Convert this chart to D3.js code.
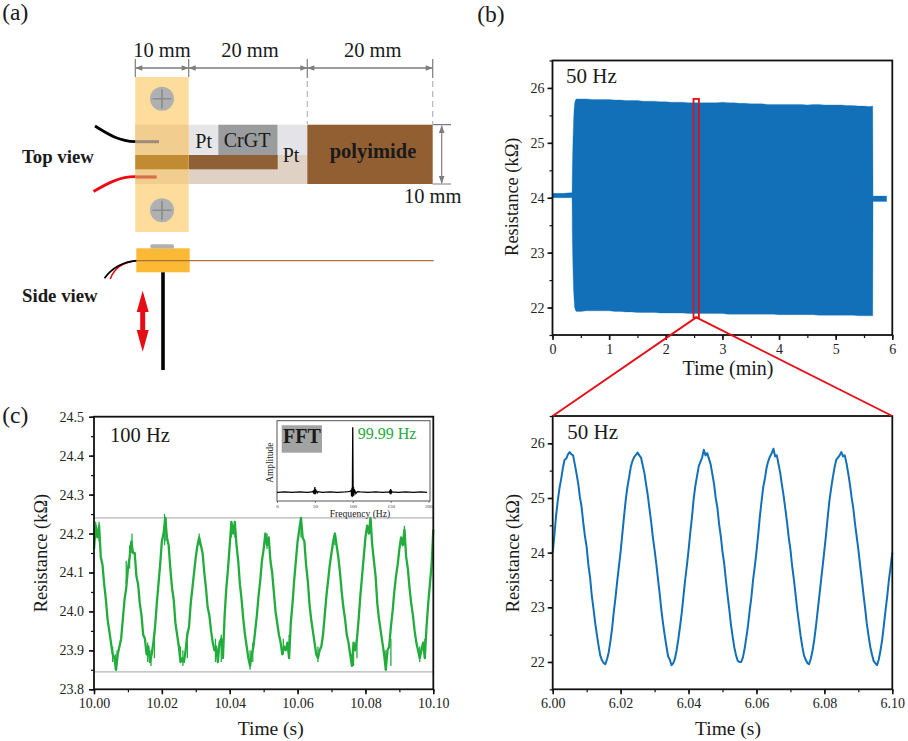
<!DOCTYPE html>
<html><head><meta charset="utf-8">
<script src="https://cdn.jsdelivr.net/npm/d3@7"></script>
<style>
html,body{margin:0;padding:0;background:#fff}
svg{display:block}
text{font-family:"Liberation Serif",serif;fill:#1a1a1a}
</style></head><body>
<svg id="fig" width="908" height="741" viewBox="0 0 908 741"></svg>
<script>
// ---------- data ----------
const bTime=[0,.1,.2,.3,.34,.345,.35,.36,.37,.38,.39,.405,.42,.5,.6,.7,.8,.9,1,1.1,1.2,1.3,1.4,1.5,1.6,1.7,1.8,1.9,2,2.1,2.2,2.3,2.4,2.5,2.6,2.7,2.8,2.9,3,3.1,3.2,3.3,3.4,3.5,3.6,3.7,3.8,3.9,4,4.1,4.2,4.3,4.4,4.5,4.6,4.7,4.8,4.9,5,5.1,5.2,5.3,5.4,5.5,5.6,5.655,5.66,5.7,5.8,5.9];
const bHigh=[24.08,24.08,24.08,24.09,24.09,24.09,24.55,25.0,25.35,25.6,25.72,25.78,25.80,25.80,25.80,25.79,25.79,25.79,25.79,25.78,25.78,25.77,25.77,25.77,25.76,25.76,25.76,25.75,25.75,25.74,25.74,25.74,25.73,25.73,25.73,25.73,25.73,25.73,25.74,25.73,25.73,25.72,25.72,25.71,25.71,25.71,25.70,25.70,25.70,25.70,25.70,25.70,25.70,25.69,25.70,25.70,25.69,25.69,25.69,25.69,25.68,25.68,25.67,25.67,25.66,25.67,24.03,24.03,24.03,24.03];
const bLow=[24.00,24.00,24.00,24.00,24.00,24.00,23.23,22.75,22.35,22.15,22.0,21.95,21.93,21.93,21.94,21.94,21.94,21.94,21.94,21.93,21.93,21.92,21.92,21.91,21.91,21.91,21.91,21.90,21.90,21.90,21.90,21.90,21.89,21.89,21.89,21.89,21.89,21.89,21.89,21.88,21.88,21.88,21.88,21.88,21.88,21.88,21.88,21.88,21.87,21.87,21.87,21.87,21.87,21.87,21.87,21.86,21.86,21.86,21.86,21.86,21.86,21.86,21.85,21.85,21.85,21.85,23.93,23.93,23.93,23.93];
const bZoomBox={t0:2.49,t1:2.585,r0:21.82,r1:25.8};

const cStep=0.0005;
const cRes=[24.16,24.22,24.19,24.22,24.14,24.12,24.07,24.03,23.98,23.95,23.92,23.89,23.88,23.85,23.89,23.91,23.93,23.98,24.03,24.06,24.11,
24.14,24.18,24.15,24.15,24.09,24.07,24.02,23.99,23.94,23.93,23.89,23.91,23.87,23.89,23.92,23.96,24.02,24.07,24.12,24.18,
24.20,24.24,24.19,24.17,24.11,24.06,24.03,23.97,23.94,23.91,23.87,23.88,23.87,23.90,23.94,23.96,24.02,24.06,24.10,24.14,
24.17,24.19,24.17,24.15,24.10,24.06,24.01,23.99,23.95,23.92,23.90,23.91,23.87,23.92,23.93,23.88,23.99,24.06,24.11,24.17,
24.23,24.20,24.23,24.17,24.13,24.07,24.03,23.98,23.94,23.91,23.88,23.86,23.89,23.91,23.95,23.99,24.04,24.08,24.13,24.16,
24.20,24.17,24.19,24.13,24.10,24.05,24.00,23.97,23.94,23.92,23.89,23.91,23.90,23.92,23.88,23.97,24.02,24.08,24.13,24.18,
24.21,24.24,24.19,24.18,24.12,24.08,24.02,23.98,23.95,23.92,23.89,23.88,23.90,23.91,23.94,23.99,24.04,24.08,24.12,24.15,
24.18,24.20,24.17,24.14,24.10,24.05,24.01,23.98,23.94,23.92,23.89,23.86,23.92,23.90,23.93,23.98,24.04,24.09,24.14,24.19,
24.22,24.20,24.24,24.17,24.13,24.09,24.02,23.98,23.95,23.92,23.89,23.85,23.90,23.91,23.96,24.00,24.05,24.09,24.12,24.16,
24.19,24.17,24.21,24.14,24.11,24.06,24.02,23.99,23.95,23.92,23.90,23.88,23.90,23.92,23.88,23.96,24.02,24.07,24.12,24.21];
// noise bursts seen on the 100 Hz trace
const cBurstTime=[10.0005,10.0015,10.0095,10.0105,10.0112,10.0208,10.0212,10.031,10.0405,10.0415,10.051,10.061,10.071,10.0815,10.0915,10.0055,10.0063,10.0068,10.0158,10.0168,10.0178,10.0255,10.0262,10.0275,10.0358,10.0375,10.046,10.0468,10.0558,10.0575,10.066,10.0765,10.0775,10.086,10.0875,10.096,10.0975];
const cBurstLow=[24.19,24.18,24.07,24.11,24.15,24.17,24.18,24.17,24.19,24.19,24.16,24.19,24.17,24.20,24.17,23.87,23.85,23.87,23.87,23.86,23.88,23.87,23.86,23.88,23.87,23.87,23.85,23.87,23.89,23.88,23.87,23.86,23.88,23.85,23.86,23.87,23.88];
const cBurstHigh=[24.23,24.23,24.13,24.17,24.20,24.25,24.24,24.20,24.23,24.23,24.20,24.24,24.20,24.24,24.22,23.91,23.89,23.90,23.92,23.90,23.95,23.91,23.90,23.95,23.93,23.94,23.90,23.92,23.93,23.94,23.91,23.92,23.94,23.90,23.93,23.91,23.93];
const cGuides=[24.24,23.845];

const dStep=0.0005;
const dRes=[24.00,24.32,24.68,24.95,25.18,25.35,25.55,25.70,25.72,25.80,25.84,25.80,25.78,25.62,25.45,25.27,25.02,24.84,24.55,24.30,24.10,23.78,23.55,23.22,22.98,22.72,22.50,22.30,22.12,22.03,21.98,21.96,22.05,22.18,22.38,22.62,22.92,23.18,23.48,23.75,24.02,
24.34,24.66,24.96,25.20,25.38,25.57,25.68,25.75,25.79,25.83,25.78,25.74,25.60,25.46,25.25,25.05,24.80,24.56,24.28,24.05,23.80,23.52,23.25,22.95,22.70,22.48,22.28,22.10,22.04,21.94,21.98,22.06,22.22,22.42,22.65,22.90,23.20,23.50,23.76,24.04,
24.36,24.64,24.98,25.22,25.40,25.58,25.66,25.74,25.88,25.78,25.82,25.72,25.62,25.44,25.26,25.00,24.82,24.52,24.30,24.02,23.80,23.50,23.22,22.96,22.68,22.46,22.26,22.12,22.02,22.00,22.00,22.08,22.24,22.44,22.66,22.94,23.18,23.50,23.74,24.02,
24.32,24.66,24.94,25.20,25.36,25.56,25.68,25.76,25.82,25.90,25.76,25.78,25.62,25.46,25.24,25.04,24.80,24.56,24.28,24.06,23.76,23.52,23.24,22.96,22.72,22.48,22.28,22.12,22.04,21.98,21.96,22.06,22.20,22.40,22.64,22.92,23.20,23.48,23.76,24.04,
24.34,24.66,24.96,25.18,25.38,25.56,25.70,25.74,25.78,25.84,25.76,25.78,25.64,25.46,25.26,25.02,24.82,24.54,24.30,24.06,23.78,23.52,23.24,22.98,22.70,22.48,22.28,22.14,22.02,21.98,21.94,22.04,22.20,22.40,22.66,22.94,23.20,23.50,23.74,24.00];

const fftFreq=[0,10,20,30,40,46,47,48,48.5,49,49.5,50,50.5,51,52,53,54,60,70,80,90,94,96,97,98,98.5,99,99.5,99.99,100.5,101,101.5,102,103,104,106,110,120,130,140,148,149,149.5,150,150.5,151,152,160,170,180,190,198];
const fftAmp =[0,.005,0,.005,0,.005,.01,.02,-.02,.04,-.03,.08,-.03,.04,.015,-.01,.01,0,.005,0,.005,.01,.015,.02,.03,-.06,.07,-.07,1,-.06,.08,-.05,.04,.02,-.02,.01,.005,0,.005,0,.005,.02,-.03,.05,-.03,.02,.005,0,.005,0,.005,0];
const fftFreqTicks=[0,50,100,150,200];

const bXTicks=[0,1,2,3,4,5,6], bYTicks=[22,23,24,25,26];
const cXTicks=[10,10.02,10.04,10.06,10.08,10.1], cYTicks=[23.8,23.9,24,24.1,24.2,24.3,24.4,24.5];
const dXTicks=[6,6.02,6.04,6.06,6.08,6.1], dYTicks=[22,23,24,25,26];

const BLUE="#1270b9", GREEN="#22ac3c", RED="#e60d16", INK="#111";
const svg=d3.select("#fig");

function txt(g,s,x,y,size,o={}){
  const t=g.append("text").attr("x",x).attr("y",y).style("font-size",size+"px").text(s);
  if(o.bold)t.style("font-weight","bold");
  if(o.anchor)t.attr("text-anchor",o.anchor);
  if(o.fill)t.style("fill",o.fill);
  if(o.rot!=null)t.attr("transform",`rotate(${o.rot} ${x} ${y})`);
  return t;
}
function frame(g,x,y,o){
  const [x0,x1]=x.range(),[y0,y1]=y.range();
  g.append("g").attr("transform",`translate(0,${y0})`).call(d3.axisBottom(x).tickValues(o.xMinor).tickFormat("").tickSize(3).tickSizeOuter(0)).call(s=>s.select(".domain").remove()).selectAll("line").attr("stroke",INK).attr("stroke-width",1.2);
  g.append("g").attr("transform",`translate(${x0},0)`).call(d3.axisLeft(y).tickValues(o.yMinor).tickFormat("").tickSize(3).tickSizeOuter(0)).call(s=>s.select(".domain").remove()).selectAll("line").attr("stroke",INK).attr("stroke-width",1.2);
  const ax=g.append("g").attr("transform",`translate(0,${y0})`).call(d3.axisBottom(x).tickValues(o.xTicks).tickFormat(o.xFmt).tickSize(5).tickPadding(o.xPad).tickSizeOuter(0));
  const ay=g.append("g").attr("transform",`translate(${x0},0)`).call(d3.axisLeft(y).tickValues(o.yTicks).tickFormat(o.yFmt).tickSize(5).tickPadding(o.yPad).tickSizeOuter(0));
  [ax,ay].forEach(a=>{a.select(".domain").remove();a.selectAll("line").attr("stroke",INK).attr("stroke-width",1.6);
    a.selectAll("text").style("font-size","14px").style("font-family",'"Liberation Serif",serif').style("fill","#222");});
  g.append("rect").attr("x",x0).attr("y",y1).attr("width",x1-x0).attr("height",y0-y1).attr("fill","none").attr("stroke",INK).attr("stroke-width",1.8);
}
const xMinorOf=(a,b,st)=>d3.range(Math.round((b-a)/st)+1).map(i=>a+i*st);

// ---------- panel (b) ----------
const bx=d3.scaleLinear().domain([0,6]).range([552.5,892.3]);
const by=d3.scaleLinear().domain([21.5,26.5]).range([335,60.5]);
const gb=svg.append("g");
gb.append("path").datum(d3.range(bTime.length)).attr("fill",BLUE).attr("stroke",BLUE).attr("stroke-width",.3)
  .attr("d",d3.area().x(i=>bx(bTime[i])).y0(i=>by(bLow[i])).y1(i=>by(bHigh[i])));
frame(gb,bx,by,{xMinor:xMinorOf(0,6,.5),yMinor:xMinorOf(21.5,26.5,.5),xTicks:bXTicks,yTicks:bYTicks,xFmt:d3.format("d"),yFmt:d3.format("d"),xPad:4,yPad:3});
txt(gb,"50 Hz",566,83.3,21);
txt(gb,"Resistance (kΩ)",518,196.7,18.4,{anchor:"middle",rot:-90});
txt(gb,"Time (min)",728,375,20,{anchor:"middle"});

// ---------- panel (d): zoomed 50 Hz ----------
const dx=d3.scaleLinear().domain([6,6.1]).range([552.7,892.3]);
const dy=d3.scaleLinear().domain([21.5,26.5]).range([689.3,416]);
const gd=svg.append("g");
gd.append("path").datum(dRes).attr("fill","none").attr("stroke",BLUE).attr("stroke-width",2).attr("stroke-linejoin","round")
  .attr("d",d3.line().x((_,i)=>dx(6+i*dStep)).y(v=>dy(v)));
frame(gd,dx,dy,{xMinor:xMinorOf(6,6.1,.01),yMinor:xMinorOf(21.5,26.5,.5),xTicks:dXTicks,yTicks:dYTicks,xFmt:d3.format(".2f"),yFmt:d3.format("d"),xPad:4,yPad:3});
txt(gd,"50 Hz",567.3,439.3,21);
txt(gd,"Resistance (kΩ)",519,553,18.4,{anchor:"middle",rot:-90});
txt(gd,"Time (s)",728,735,19.5,{anchor:"middle"});

// zoom marker
const zb=bZoomBox;
svg.append("rect").attr("x",bx(zb.t0)).attr("y",by(zb.r1)).attr("width",bx(zb.t1)-bx(zb.t0)).attr("height",by(zb.r0)-by(zb.r1)).attr("fill","none").attr("stroke",RED).attr("stroke-width",1.8);
const zmx=(bx(zb.t0)+bx(zb.t1))/2;
svg.append("path").attr("fill","none").attr("stroke",RED).attr("stroke-width",1.9)
  .attr("d",`M${dx.range()[0]},${dy.range()[1]}L${zmx},${by(zb.r0)}L${dx.range()[1]},${dy.range()[1]}`);

// ---------- panel (c) ----------
const cx=d3.scaleLinear().domain([10,10.1]).range([94,433.3]);
const cy=d3.scaleLinear().domain([23.8,24.5]).range([689.3,416.7]);
const gc=svg.append("g");
gc.selectAll("line.guide").data(cGuides).join("line").attr("class","guide").attr("x1",94).attr("x2",433).attr("y1",d=>cy(d)).attr("y2",d=>cy(d)).attr("stroke","#b4b4ba").attr("stroke-width",1.2);
gc.append("path").datum(cRes).attr("fill","none").attr("stroke",GREEN).attr("stroke-width",2.3).attr("stroke-linejoin","round")
  .attr("d",d3.line().x((_,i)=>cx(10+i*cStep)).y(v=>cy(v)));
gc.selectAll("line.burst").data(cBurstTime).join("line").attr("class","burst")
  .attr("x1",d=>cx(d)).attr("x2",d=>cx(d))
  .attr("y1",(d,i)=>cy(cBurstLow[i])).attr("y2",(d,i)=>cy(cBurstHigh[i]))
  .attr("stroke",GREEN).attr("stroke-width",1.3);
frame(gc,cx,cy,{xMinor:xMinorOf(10,10.1,.01),yMinor:xMinorOf(23.8,24.5,.05),xTicks:cXTicks,yTicks:cYTicks,xFmt:d3.format(".2f"),yFmt:d3.format(".1f"),xPad:4,yPad:5});
txt(gc,"100 Hz",110,441.7,20.5);
txt(gc,"Resistance (kΩ)",46.7,553,18.4,{anchor:"middle",rot:-90});
txt(gc,"Time (s)",270.7,735,19.5,{anchor:"middle"});

// inset FFT
const fx=d3.scaleLinear().domain([0,200]).range([277,428.5]);
const fy=d3.scaleLinear().domain([0,1]).range([492.3,427.3]);
const gi=svg.append("g");
gi.append("rect").attr("x",277).attr("y",420.7).attr("width",153).attr("height",80.3).attr("fill","none").attr("stroke","#555").attr("stroke-width",1);
gi.append("path").datum(d3.range(fftFreq.length)).attr("fill","none").attr("stroke","#000").attr("stroke-width",1.3)
  .attr("d",d3.line().x(i=>fx(fftFreq[i])).y(i=>fy(fftAmp[i])));
gi.append("g").attr("transform","translate(0,501)").call(d3.axisBottom(fx).tickValues(fftFreqTicks).tickFormat(d3.format("d")).tickSize(2).tickPadding(1).tickSizeOuter(0))
  .call(s=>{s.select(".domain").remove();s.selectAll("line").attr("stroke","#444").attr("stroke-width",.7);s.selectAll("text").style("font-size","5px").style("font-family",'"Liberation Serif",serif').style("fill","#333");});
gi.append("rect").attr("x",281.7).attr("y",425.3).attr("width",40.3).attr("height",27.4).attr("fill","#a3a3a3");
txt(gi,"FFT",283,442.7,20,{bold:true});
txt(gi,"99.99 Hz",357.7,439,16,{fill:GREEN});
txt(gi,"Amplitude",273.3,462.7,9.4,{anchor:"middle",rot:-90});
txt(gi,"Frequency (Hz)",360,516.7,9.6,{anchor:"middle"});

// ---------- panel labels ----------
txt(svg,"(a)",2.3,19.5,23.5);
txt(svg,"(b)",477.3,21.7,23.5);
txt(svg,"(c)",2.3,422.7,23.5);

// ---------- panel (a): schematic ----------
const ga=svg.append("g");
const R=(x0,y0,x1,y1,f,g=ga)=>g.append("rect").attr("x",x0).attr("y",y0).attr("width",x1-x0).attr("height",y1-y0).attr("fill",f);
const GR="#7d7d7d";
R(188.7,124.7,218.3,155,"#e6e6e8");
R(218.3,124.7,277.7,155,"#9b9c9e");
R(277.7,124.7,307.3,155,"#e4e4e8");
R(188.7,155,307.3,184,"#dfd1c4");
R(188.7,155,277.7,169.3,"#8f6035");
R(307.3,124.7,432.7,184,"#925f33");
R(135.3,77,188.7,232,"#fddc9c");
R(135.3,124.7,188.7,184,"#f1cd8f");
R(135.3,155,188.7,169.3,"#c08b33");
[98.7,210.3].forEach(cyy=>{
  ga.append("circle").attr("cx",162).attr("cy",cyy).attr("r",12).attr("fill","#aeb0b2");
  ga.append("path").attr("d",`M152.5,${cyy}H171.5M162,${cyy-9.5}V${cyy+9.5}`).attr("stroke","#8b8b8b").attr("stroke-width",1.6);
});
ga.append("path").attr("d","M95,126C108,134 118,141 135.5,141.7").attr("fill","none").attr("stroke","#000").attr("stroke-width",2.8);
ga.append("path").attr("d","M135.5,141.7H159").attr("stroke","#9b8b7c").attr("stroke-width",3);
ga.append("path").attr("d","M93.5,191.5C108,183 120,176.5 135.5,176.7").attr("fill","none").attr("stroke","#ee0a12").attr("stroke-width",2.8);
ga.append("path").attr("d","M135.5,177H156.7").attr("stroke","#da6f48").attr("stroke-width",3.2);
const dimH=(x0,x1,y)=>{ga.append("path").attr("d",`M${x0},${y}H${x1}`).attr("stroke",GR).attr("stroke-width",1.3);
  ga.append("path").attr("d",`M${x0},${y}l7,-2.8v5.6zM${x1},${y}l-7,-2.8v5.6z`).attr("fill",GR);};
dimH(135.3,188.7,68);dimH(188.7,307.3,68);dimH(307.3,432.7,68);
[135.3,188.7].forEach(x=>ga.append("path").attr("d",`M${x},59V77`).attr("stroke",GR).attr("stroke-width",1.2));
[307.3,432.7].forEach(x=>{ga.append("path").attr("d",`M${x},59V78`).attr("stroke",GR).attr("stroke-width",1.2);
  ga.append("path").attr("d",`M${x},81V124`).attr("stroke","#b0b0b0").attr("stroke-width",1.1).attr("stroke-dasharray","6 4");});
ga.append("path").attr("d","M432.7,124.7H451M432.7,184H451M441.7,126V183").attr("stroke",GR).attr("stroke-width",1.2).attr("fill","none");
ga.append("path").attr("d","M441.7,125l-2.8,8h5.6zM441.7,184l-2.8,-8h5.6z").attr("fill",GR);
R(136.3,248.3,189.7,272.3,"#fbb935");
ga.append("rect").attr("x",150.3).attr("y",244.3).attr("width",23.7).attr("height",4.2).attr("rx",1.5).attr("fill","#b3b1ae");
ga.append("path").attr("d","M110.3,279C114,268 124,262 136.5,260.7").attr("fill","none").attr("stroke","#e60d16").attr("stroke-width",1.6);
ga.append("path").attr("d","M104.5,278.3C112,268 122,262 136.5,260.7").attr("fill","none").attr("stroke","#000").attr("stroke-width",1.7);
ga.append("path").attr("d","M136.3,260.7H433.7").attr("stroke","#a8733f").attr("stroke-width",1.3);
ga.append("path").attr("d","M163,272.3V370").attr("stroke","#000").attr("stroke-width",3.6);
ga.append("path").attr("d","M142.7,290.7L148.7,312H145.2V330H148.7L142.7,351.7L136.7,330H140.2V312H136.7Z").attr("fill",RED);
txt(ga,"10 mm",162,57,20.5,{anchor:"middle"});
txt(ga,"20 mm",250,57,20.5,{anchor:"middle"});
txt(ga,"20 mm",372.7,57,20.5,{anchor:"middle"});
txt(ga,"10 mm",432.7,203,20.5,{anchor:"middle"});
txt(ga,"Top view",22,163,18.8,{bold:true});
txt(ga,"Side view",22,302,18.8,{bold:true});
txt(ga,"polyimide",373,158,20.5,{bold:true,anchor:"middle"});
txt(ga,"Pt",195.3,147.7,20);
txt(ga,"CrGT",223.7,147,20);
txt(ga,"Pt",282.7,161.7,20);
</script>
</body></html>
